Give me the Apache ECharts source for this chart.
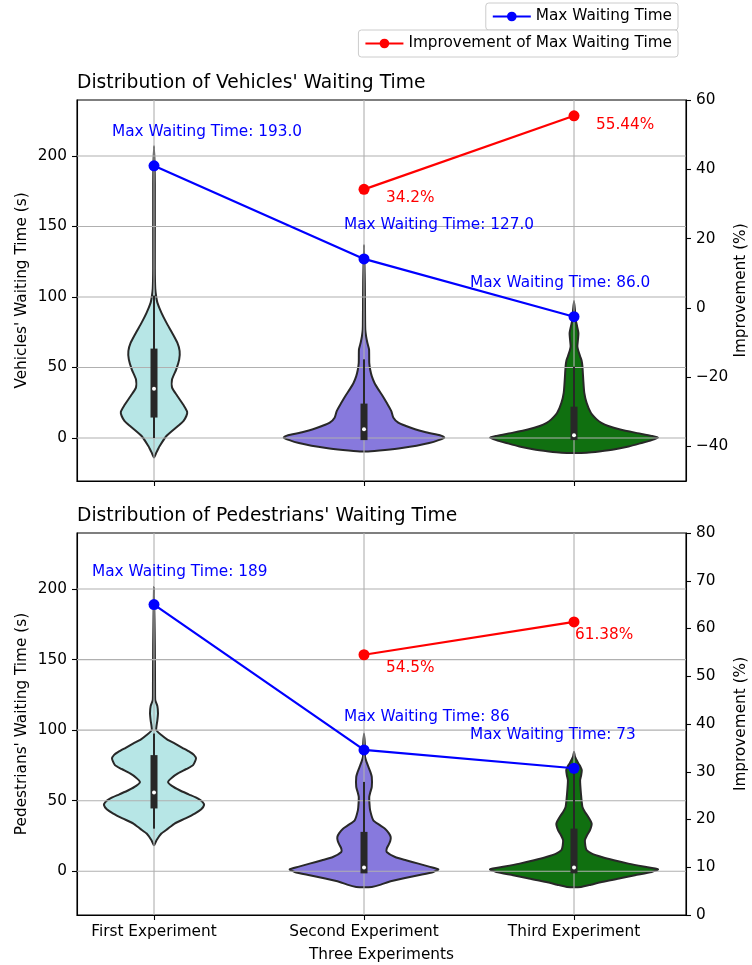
<!DOCTYPE html>
<html><head><meta charset="utf-8">
<script src="https://cdn.jsdelivr.net/npm/echarts@6/dist/echarts.min.js"></script>
<style>html,body{margin:0;padding:0;background:#fff}#c{width:752px;height:965px}</style>
</head><body><div id="c"></div>
<script>
// ---------------- data ----------------
const categories = ['First Experiment', 'Second Experiment', 'Third Experiment'];
const xTicks = [0, 1, 2];
const leftTicks = [0, 50, 100, 150, 200];
const vehRightTicks = [-40, -20, 0, 20, 40, 60];
const pedRightTicks = [0, 10, 20, 30, 40, 50, 60, 70, 80];

const vehMax = [193.0, 127.0, 86.0];
const vehImp = [null, 34.2, 55.44];
const pedMax = [189, 86, 73];
const pedImp = [null, 54.5, 61.38];

// violin outlines: [waiting time, half width in category units]
const vehViolin1 = [[-13.9,0],[-10.4,0.011],[-8,0.019],[-5.7,0.027],[1.4,0.059],[8.5,0.114],[12,0.14],[15.6,0.154],[18.5,0.158],[22.7,0.143],[29.8,0.111],[35.7,0.086],[41.6,0.086],[48.7,0.106],[55.8,0.12],[61.7,0.122],[67.6,0.111],[74.7,0.086],[81.8,0.059],[88.9,0.035],[96,0.016],[100.7,0.01],[106,0.006],[120,0.004],[180,0.004],[207,0]];
const vehViolin2 = [[-9.6,0],[-9.2,0.05],[-8.5,0.1],[-7.1,0.18],[-5.5,0.25],[-3.6,0.31],[-1.5,0.355],[0.3,0.382],[1.5,0.37],[2.6,0.34],[4.3,0.29],[6.2,0.243],[8.5,0.2],[10.9,0.163],[14.4,0.14],[19.1,0.13],[25,0.108],[30,0.088],[34.5,0.068],[39,0.05],[43.9,0.037],[48,0.03],[53.4,0.025],[62.8,0.024],[67.5,0.016],[72,0.01],[77,0.006],[88.8,0.005],[110,0.004],[137,0]];
const vehViolin3 = [[-10.6,0],[-10.4,0.06],[-9.5,0.12],[-8,0.195],[-6,0.26],[-3.6,0.32],[-1.5,0.37],[0.3,0.4],[1.5,0.37],[3.8,0.29],[6,0.22],[8.5,0.163],[10.8,0.13],[13.2,0.108],[17.9,0.08],[25,0.06],[32,0.049],[41.5,0.044],[50.9,0.04],[55,0.036],[58,0.029],[62,0.02],[65,0.016],[70,0.019],[74.5,0.021],[79,0.015],[83.9,0.008],[90,0.005],[97.2,0]];
const pedViolin1 = [[18.4,0],[22,0.012],[26.7,0.035],[30,0.065],[33.8,0.098],[37.5,0.15],[40.9,0.194],[44,0.225],[46.8,0.238],[49,0.232],[51.5,0.21],[54.5,0.165],[57.4,0.122],[60.5,0.085],[63.3,0.067],[66.3,0.085],[69.3,0.114],[72.5,0.155],[75.2,0.186],[79.9,0.2],[82.5,0.19],[84.6,0.17],[87.5,0.135],[90.6,0.098],[93.5,0.062],[96.5,0.035],[100,0.011],[103,0.012],[107,0.016],[112,0.019],[117,0.016],[121.3,0.006],[130.7,0.005],[160,0.004],[201.2,0]];
const pedViolin2 = [[-11.4,0],[-11.1,0.037],[-9.5,0.08],[-7.6,0.116],[-5,0.19],[-2.8,0.259],[-0.5,0.33],[1.4,0.354],[3.3,0.31],[5.4,0.259],[7.8,0.2],[10.1,0.148],[13.7,0.108],[16,0.108],[18.4,0.116],[21.5,0.125],[24.3,0.127],[27,0.118],[30.2,0.1],[33,0.072],[36.2,0.044],[43.3,0.029],[48,0.026],[52.7,0.025],[56,0.03],[59.8,0.037],[66.9,0.037],[70.5,0.03],[74,0.021],[77.5,0.012],[81,0.005],[90,0.004],[97.6,0]];
const pedViolin3 = [[-11.4,0],[-11.1,0.033],[-9.5,0.08],[-7.6,0.132],[-5,0.22],[-2.8,0.29],[-0.5,0.37],[1.4,0.4],[3.3,0.33],[5.4,0.259],[7.8,0.19],[10.1,0.132],[12.5,0.085],[14.9,0.06],[18,0.054],[22,0.052],[25.5,0.062],[29.1,0.076],[33.8,0.084],[38.5,0.068],[42,0.052],[45.6,0.04],[55.1,0.033],[64.5,0.029],[68,0.034],[71.6,0.037],[74,0.031],[76.4,0.021],[81,0.005],[84.6,0]];

// box stats: [q1, median, q3, whiskerLow, whiskerHigh]
const vehBox = [[14.5,35,63.4,0,101],[-1.5,6.2,24.4,0,55.8],[-1.5,1.9,22.2,0,50.6]];
const pedBox = [[44.5,55.8,82.3,30.2,97.6],[-1.5,2.6,27.9,0,63.3],[-1.5,2.6,30.2,0,70.4]];

// ---------------- drawing ----------------
const FONT = 'DejaVu Sans';
const violinColors = ['#b7e6e6', '#8779dd', '#107010'];
const EDGE = '#282828';

function violinRender(profiles) {
  return function (params, api) {
    const i = params.dataIndex;
    const x = api.value(0);
    const prof = profiles[i];
    const pts = prof.map(p => api.coord([x + p[1], p[0]]));
    for (let k = prof.length - 1; k >= 0; k--) {
      if (prof[k][1] > 0) pts.push(api.coord([x - prof[k][1], prof[k][0]]));
    }
    return {
      type: 'polygon',
      shape: { points: pts, smooth: 0.2 },
      style: { fill: violinColors[i], stroke: EDGE, lineWidth: 2 }
    };
  };
}
function boxRender(stats) {
  return function (params, api) {
    const i = params.dataIndex;
    const x = api.value(0);
    const s = stats[i];
    const pq1 = api.coord([x, s[0]]), pm = api.coord([x, s[1]]), pq3 = api.coord([x, s[2]]);
    const pwl = api.coord([x, s[3]]), pwh = api.coord([x, s[4]]);
    return {
      type: 'group',
      children: [
        { type: 'line', shape: { x1: pwl[0], y1: pwl[1], x2: pwh[0], y2: pwh[1] }, style: { stroke: EDGE, lineWidth: 2 } },
        { type: 'rect', shape: { x: pq3[0] - 3.5, y: pq3[1], width: 7, height: pq1[1] - pq3[1] }, style: { fill: EDGE } },
        { type: 'circle', shape: { cx: pm[0], cy: pm[1], r: 2 }, style: { fill: '#fff' } }
      ]
    };
  };
}
function hGridRender(params, api) {
  const cs = params.coordSys;
  const p = api.coord([0, api.value(0)]);
  return { type: 'line', shape: { x1: cs.x, y1: p[1], x2: cs.x + cs.width, y2: p[1] }, style: { stroke: '#b0b0b0', lineWidth: 1.1 } };
}
function vGridRender(params, api) {
  const cs = params.coordSys;
  const p = api.coord([api.value(0), 0]);
  return { type: 'line', shape: { x1: p[0], y1: cs.y, x2: p[0], y2: cs.y + cs.height }, style: { stroke: '#b0b0b0', lineWidth: 1.1 } };
}

const axisCommon = {
  axisLine: { show: true, onZero: false, lineStyle: { color: '#000', width: 1.1 } },
  axisTick: { show: true, length: 5, lineStyle: { color: '#000', width: 1.1 } },
  splitLine: { show: false },
  axisLabel: { color: '#000', fontFamily: FONT, fontSize: 15.3, margin: 10 },
  nameTextStyle: { color: '#000', fontFamily: FONT, fontSize: 15.3 },
  nameMoveOverlap: false
};
function xAxisDef(gridIndex, showLabels) {
  return Object.assign({}, axisCommon, {
    type: 'value', gridIndex, min: -0.3667, max: 2.5333,
    axisTick: Object.assign({}, axisCommon.axisTick, { customValues: xTicks }),
    axisLabel: Object.assign({}, axisCommon.axisLabel, { show: showLabels, customValues: xTicks, margin: 10, formatter: v => categories[Math.round(v)] || '' }),
    name: showLabels ? 'Three Experiments' : '', nameLocation: 'middle', nameGap: 33
  });
}
function yAxisDef(gridIndex, min, max, ticks, name, pos, gap) {
  return Object.assign({}, axisCommon, {
    type: 'value', gridIndex, min, max, position: pos,
    axisTick: Object.assign({}, axisCommon.axisTick, { customValues: ticks }),
    axisLabel: Object.assign({}, axisCommon.axisLabel, { customValues: ticks, formatter: v => (v < 0 ? '\u2212' + Math.abs(v) : String(v)) }),
    name, nameLocation: 'middle', nameGap: gap, nameRotate: 90
  });
}

function blueLabel(offset, text) {
  return { show: true, position: 'inside', align: 'left', verticalAlign: 'middle', offset, formatter: text, color: '#0000ff', fontFamily: FONT, fontSize: 15.3 };
}
function redLabel(offset, text) {
  return { show: true, position: 'inside', align: 'left', verticalAlign: 'middle', offset, formatter: text, color: '#ff0000', fontFamily: FONT, fontSize: 15.3 };
}

const blueOffsetsVeh = [[-42, -34], [-20, -34], [-104, -34]];
const blueOffsetsPed = [[-62, -33], [-20, -33], [-104, -33]];
const redOffsetsVeh = [[22, 9], [22, 9], [22, 9]];
const redOffsetsPed = [[22, 13], [22, 13], [1, 13]];

function maxSeries(values, xAxisIndex, yAxisIndex, offsets, fmt) {
  return {
    type: 'line', name: 'Max Waiting Time', xAxisIndex, yAxisIndex, z: 10,
    data: values.map((v, i) => ({ value: [xTicks[i], v], label: blueLabel(offsets[i], 'Max Waiting Time: ' + fmt(v)) })),
    symbol: 'circle', symbolSize: 11, showAllSymbol: true,
    lineStyle: { color: '#0000ff', width: 2.2 }, itemStyle: { color: '#0000ff' }
  };
}
function impSeries(values, xAxisIndex, yAxisIndex, offsets) {
  const data = [];
  values.forEach((v, i) => { if (v !== null) data.push({ value: [xTicks[i], v], label: redLabel(offsets[i], v + '%') }); });
  return {
    type: 'line', name: 'Improvement of Max Waiting Time', xAxisIndex, yAxisIndex, z: 10,
    data, symbol: 'circle', symbolSize: 11, showAllSymbol: true,
    lineStyle: { color: '#ff0000', width: 2.2 }, itemStyle: { color: '#ff0000' }
  };
}

const option = {
  animation: false,
  backgroundColor: '#fff',
  textStyle: { fontFamily: FONT },
  title: [
    { text: "Distribution of Vehicles' Waiting Time", left: 77, top: 74, padding: 0, textStyle: { fontFamily: FONT, fontSize: 18.7, fontWeight: 'normal', color: '#000' } },
    { text: "Distribution of Pedestrians' Waiting Time", left: 77, top: 507, padding: 0, textStyle: { fontFamily: FONT, fontSize: 18.7, fontWeight: 'normal', color: '#000' } }
  ],
  legend: [
    { data: ['Max Waiting Time'], right: 74, top: 3, orient: 'vertical', itemWidth: 38, itemHeight: 12, padding: [5, 6, 5, 6],
      borderColor: '#cccccc', borderWidth: 1, borderRadius: 3, backgroundColor: 'rgba(255,255,255,0.8)',
      textStyle: { fontFamily: FONT, fontSize: 15.3, color: '#000', lineHeight: 17 } },
    { data: ['Improvement of Max Waiting Time'], right: 74, top: 30, orient: 'vertical', itemWidth: 38, itemHeight: 12, padding: [5, 6, 5, 6],
      borderColor: '#cccccc', borderWidth: 1, borderRadius: 3, backgroundColor: 'rgba(255,255,255,0.8)',
      textStyle: { fontFamily: FONT, fontSize: 15.3, color: '#000', lineHeight: 17 } }
  ],
  grid: [
    { left: 77, right: 66, top: 100, height: 381, show: true, borderColor: '#000', borderWidth: 1.1, backgroundColor: 'transparent', outerBoundsMode: 'none', containLabel: false },
    { left: 77, right: 66, top: 533, height: 382, show: true, borderColor: '#000', borderWidth: 1.1, backgroundColor: 'transparent', outerBoundsMode: 'none', containLabel: false }
  ],
  xAxis: [xAxisDef(0, false), xAxisDef(1, true)],
  yAxis: [
    yAxisDef(0, -30.5, 239.7, leftTicks, "Vehicles' Waiting Time (s)", 'left', 47),
    yAxisDef(0, -50, 60, vehRightTicks, 'Improvement (%)', 'right', 48),
    yAxisDef(1, -31, 239.7, leftTicks, "Pedestrians' Waiting Time (s)", 'left', 47),
    yAxisDef(1, 0, 80, pedRightTicks, 'Improvement (%)', 'right', 48)
  ],
  series: [
    { type: 'custom', xAxisIndex: 0, yAxisIndex: 0, z: 1, silent: true, renderItem: violinRender([vehViolin1, vehViolin2, vehViolin3]), data: xTicks.map(v => [v]) },
    { type: 'custom', xAxisIndex: 0, yAxisIndex: 0, z: 2, silent: true, renderItem: hGridRender, data: leftTicks.map(v => [v]) },
    { type: 'custom', xAxisIndex: 0, yAxisIndex: 0, z: 2, silent: true, renderItem: vGridRender, data: xTicks.map(v => [v]) },
    { type: 'custom', xAxisIndex: 0, yAxisIndex: 0, z: 3, silent: true, renderItem: boxRender(vehBox), data: xTicks.map(v => [v]) },
    maxSeries(vehMax, 0, 0, blueOffsetsVeh, v => v.toFixed(1)),
    impSeries(vehImp, 0, 1, redOffsetsVeh),

    { type: 'custom', xAxisIndex: 1, yAxisIndex: 2, z: 1, silent: true, renderItem: violinRender([pedViolin1, pedViolin2, pedViolin3]), data: xTicks.map(v => [v]) },
    { type: 'custom', xAxisIndex: 1, yAxisIndex: 2, z: 2, silent: true, renderItem: hGridRender, data: leftTicks.map(v => [v]) },
    { type: 'custom', xAxisIndex: 1, yAxisIndex: 2, z: 2, silent: true, renderItem: vGridRender, data: xTicks.map(v => [v]) },
    { type: 'custom', xAxisIndex: 1, yAxisIndex: 2, z: 3, silent: true, renderItem: boxRender(pedBox), data: xTicks.map(v => [v]) },
    maxSeries(pedMax, 1, 2, blueOffsetsPed, v => String(v)),
    impSeries(pedImp, 1, 3, redOffsetsPed)
  ]
};
const chart = echarts.init(document.getElementById('c'));
chart.setOption(option);
</script></body></html>
